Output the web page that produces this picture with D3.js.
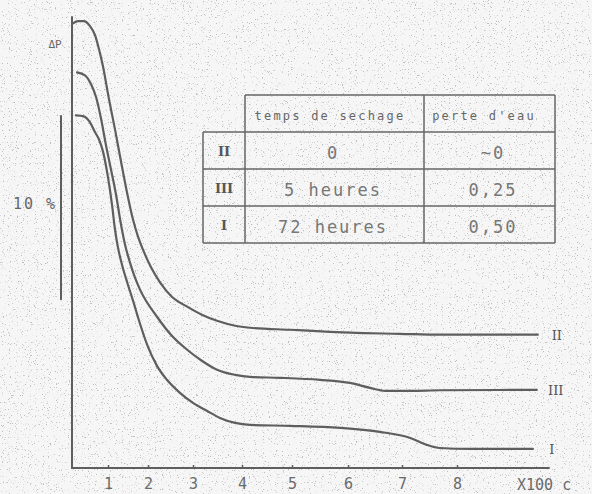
<!DOCTYPE html>
<html>
<head>
<meta charset="utf-8">
<script src="https://cdn.jsdelivr.net/npm/d3@7"></script>
<style>
  html, body { margin: 0; padding: 0; background: #f5f5f5; }
  svg { display: block; }
</style>
</head>
<body>
<script>
// time axis (x 100 c), hand-drawn tick positions
const xTicks = [1, 2, 3, 4, 5, 6, 7, 8];
const xUnit = 'X100 c';
const yLabel = 'ΔP';
const scaleBar = [9.2, 19.2]; // 10 % bar
const scaleLabel = '10 %';

// curve values: [x, ΔP %]
const curveII = [
  [0.03, 24.26], [0.17, 24.37], [0.33, 24.37], [0.50, 24.10], [0.64, 23.61],
  [0.75, 22.84], [0.86, 21.91], [1.025, 20.11], [1.175, 18.47], [1.325, 16.72],
  [1.475, 15.03], [1.625, 13.55], [1.75, 12.62], [1.875, 11.91], [2.07, 10.93],
  [2.27, 10.11], [2.53, 9.34], [2.87, 8.80], [3.18, 8.36], [3.49, 8.03],
  [3.86, 7.76], [4.16, 7.65], [4.96, 7.54], [5.68, 7.43], [6.04, 7.38],
  [6.96, 7.32], [7.69, 7.27], [9.47, 7.27]
];
const curveIII = [
  [0.14, 21.58], [0.36, 21.42], [0.53, 20.93], [0.67, 20.22], [0.81, 19.02],
  [0.94, 17.65], [1.075, 16.28], [1.20, 14.92], [1.325, 13.28], [1.425, 12.19],
  [1.55, 11.20], [1.675, 10.38], [1.80, 9.73], [2.20, 8.25], [2.53, 7.21],
  [2.87, 6.45], [3.18, 5.85], [3.49, 5.36], [3.86, 5.08], [4.16, 4.97],
  [4.76, 4.92], [5.50, 4.81], [6.04, 4.64], [6.41, 4.37], [6.69, 4.21],
  [7.15, 4.21], [7.69, 4.24], [9.45, 4.26]
];
const curveI = [
  [0.11, 19.23], [0.33, 19.18], [0.50, 18.85], [0.64, 18.31], [0.75, 17.92],
  [0.86, 17.27], [1.00, 15.85], [1.10, 14.37], [1.175, 13.01], [1.25, 12.02],
  [1.35, 11.09], [1.475, 10.16], [1.625, 9.13], [1.80, 7.87], [1.98, 6.72],
  [2.20, 5.57], [2.42, 4.81], [2.71, 4.10], [3.00, 3.55], [3.29, 3.11],
  [3.55, 2.73], [3.86, 2.46], [4.16, 2.35], [4.96, 2.30], [5.86, 2.19],
  [6.59, 1.97], [7.15, 1.64], [7.45, 1.26], [7.69, 1.09], [8.24, 1.04], [9.38, 1.04]
];
const curveNames = ['II', 'III', 'I'];

// table
const tableHead = ['temps de sechage', "perte d'eau"];
const tableRows = ['II', 'III', 'I'];
const tableTemps = ['0', '5 heures', '72 heures'];
const tablePerte = ['~0', '0,25', '0,50'];

const width = 592;
const height = 494;
const ink = '#5e5e5e';
const mono = '"DejaVu Sans Mono", "Liberation Mono", monospace';
const serif = '"DejaVu Serif", "Liberation Serif", serif';

const svg = d3.select('body')
  .append('svg')
  .attr('width', width)
  .attr('height', height)
  .attr('viewBox', [0, 0, width, height]);

// scanned paper grain
const defs = svg.append('defs');
const grain = defs.append('filter').attr('id', 'grain')
  .attr('x', 0).attr('y', 0).attr('width', '100%').attr('height', '100%');
grain.append('feTurbulence')
  .attr('type', 'fractalNoise')
  .attr('baseFrequency', 0.85)
  .attr('numOctaves', 2)
  .attr('seed', 7);
grain.append('feColorMatrix')
  .attr('type', 'matrix')
  .attr('values', '0 0 0 0 0.5  0 0 0 0 0.5  0 0 0 0 0.5  8 0 0 0 -5.1');

svg.append('rect')
  .attr('width', width).attr('height', height)
  .attr('fill', '#f6f6f6');
svg.append('rect')
  .attr('width', width).attr('height', height)
  .attr('filter', 'url(#grain)');

// hand-drawn x axis is uneven, so piecewise scale
const x = d3.scaleLinear()
  .domain([0, 1, 2, 3, 4, 5, 6, 7, 8, 9, 10])
  .range([72, 108, 148, 193, 242, 292, 348, 402, 457, 512, 567]);
const y = d3.scaleLinear()
  .domain([0, 24.6])
  .range([468, 17]);

const g = svg.append('g')
  .attr('fill', 'none')
  .attr('stroke', ink)
  .attr('stroke-linecap', 'round')
  .attr('stroke-linejoin', 'round');

// axes
g.append('line')
  .attr('x1', x(0)).attr('x2', x(0))
  .attr('y1', y(0)).attr('y2', y(24.6))
  .attr('stroke-width', 2);
g.append('line')
  .attr('x1', x(0)).attr('x2', x(9.67))
  .attr('y1', y(0)).attr('y2', y(0))
  .attr('stroke-width', 2);

const xAxis = svg.append('g')
  .attr('transform', `translate(0,${y(0)})`)
  .call(d3.axisBottom(x).tickValues(xTicks).tickSizeInner(-3).tickSizeOuter(0).tickPadding(10))
  .call(a => a.select('.domain').remove());
xAxis.selectAll('line').attr('stroke', ink).attr('stroke-width', 1.5);
xAxis.selectAll('text')
  .attr('fill', '#6a6a6a')
  .style('font', `15px ${mono}`);

svg.append('text')
  .attr('x', 517).attr('y', 490)
  .attr('fill', '#6a6a6a')
  .style('font', `15px ${mono}`)
  .text(xUnit);

svg.append('text')
  .attr('x', 55).attr('y', 48)
  .attr('text-anchor', 'middle')
  .attr('fill', '#666')
  .style('font', `11px ${mono}`)
  .text(yLabel);

// 10 % bar
g.append('line')
  .attr('x1', 61).attr('x2', 61)
  .attr('y1', y(scaleBar[0])).attr('y2', y(scaleBar[1]))
  .attr('stroke-width', 2);
svg.append('text')
  .attr('x', 57).attr('y', 209)
  .attr('text-anchor', 'end')
  .attr('fill', '#666')
  .style('font', `15px ${mono}`)
  .style('letter-spacing', '2px')
  .text(scaleLabel);

// curves
const line = d3.line()
  .x(d => x(d[0]))
  .y(d => y(d[1]))
  .curve(d3.curveMonotoneX);

const curves = [curveII, curveIII, curveI];
g.selectAll('path.curve')
  .data(curves)
  .join('path')
    .attr('class', 'curve')
    .attr('stroke-width', 2.2)
    .attr('d', line);

svg.selectAll('text.curve-name')
  .data(curves)
  .join('text')
    .attr('class', 'curve-name')
    .attr('x', d => x(d[d.length - 1][0]) + 19)
    .attr('y', d => y(d[d.length - 1][1]) + 5)
    .attr('text-anchor', 'middle')
    .attr('fill', '#555')
    .style('font', `13px ${serif}`)
    .text((d, i) => curveNames[i]);

// table
const tb = { left: 203, l: 245, mid: 424, r: 555, top: 95, head: 132, rowH: 37 };
const tBottom = tb.head + tb.rowH * tableRows.length;
const tl = svg.append('g').attr('stroke', '#666').attr('stroke-width', 1.5).attr('fill', 'none');
tl.append('line').attr('x1', tb.l).attr('x2', tb.r).attr('y1', tb.top).attr('y2', tb.top);
tl.append('line').attr('x1', tb.l).attr('x2', tb.l).attr('y1', tb.top).attr('y2', tBottom);
tl.append('line').attr('x1', tb.mid).attr('x2', tb.mid).attr('y1', tb.top).attr('y2', tBottom);
tl.append('line').attr('x1', tb.r).attr('x2', tb.r).attr('y1', tb.top).attr('y2', tBottom);
tl.append('line').attr('x1', tb.left).attr('x2', tb.left).attr('y1', tb.head).attr('y2', tBottom);
tl.selectAll('line.row')
  .data(d3.range(tableRows.length + 1))
  .join('line')
    .attr('class', 'row')
    .attr('x1', tb.left).attr('x2', tb.r)
    .attr('y1', i => tb.head + i * tb.rowH)
    .attr('y2', i => tb.head + i * tb.rowH);

svg.selectAll('text.head')
  .data(tableHead)
  .join('text')
    .attr('class', 'head')
    .attr('x', (d, i) => i ? 484 : 330)
    .attr('y', 120)
    .attr('text-anchor', 'middle')
    .attr('fill', '#666')
    .style('font', `12px ${mono}`)
    .style('letter-spacing', '2.2px')
    .text(d => d);

svg.selectAll('text.rn')
  .data(tableRows)
  .join('text')
    .attr('class', 'rn')
    .attr('x', 224)
    .attr('y', (d, i) => tb.head + i * tb.rowH + 24)
    .attr('text-anchor', 'middle')
    .attr('fill', '#555')
    .style('font', `bold 13px ${serif}`)
    .text(d => d);

svg.selectAll('text.temps')
  .data(tableTemps)
  .join('text')
    .attr('class', 'temps')
    .attr('x', 333)
    .attr('y', (d, i) => tb.head + i * tb.rowH + 27)
    .attr('text-anchor', 'middle')
    .attr('fill', '#777')
    .style('font', `17px ${mono}`)
    .style('letter-spacing', '2px')
    .text(d => d);

svg.selectAll('text.perte')
  .data(tablePerte)
  .join('text')
    .attr('class', 'perte')
    .attr('x', 493)
    .attr('y', (d, i) => tb.head + i * tb.rowH + 27)
    .attr('text-anchor', 'middle')
    .attr('fill', '#777')
    .style('font', `17px ${mono}`)
    .style('letter-spacing', '2px')
    .text(d => d);
</script>
</body>
</html>
